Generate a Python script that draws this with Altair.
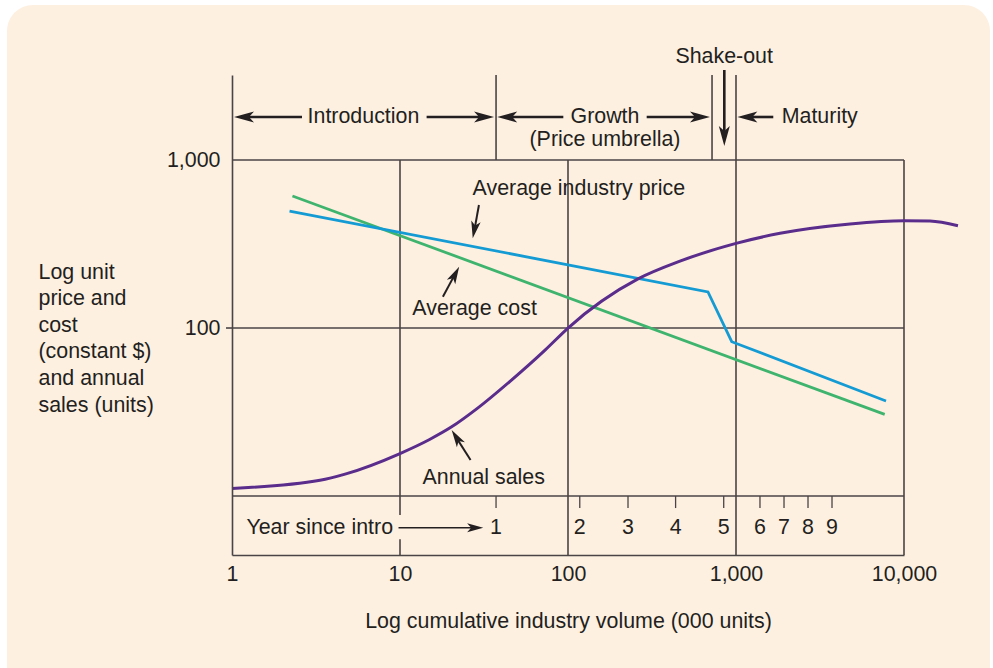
import altair as alt
import pandas as pd

# ---- axes / scale extents (log units) ----
X_MIN, X_MAX = 1, 10000
Y_MIN, Y_MAX = 4.4557, 3206.0

x_ticks = [1, 10, 100, 1000, 10000]
y_ticks = [100, 1000]
y_title = ["Log unit", "price and", "cost", "(constant $)", "and annual", "sales (units)"]

# ---- curves: cumulative volume (000 units) vs value ----
price_x = [2.2, 681, 943, 7815]
price_y = [497, 164, 82.9, 36.8]

cost_x = [2.29, 7677]
cost_y = [611, 30.6]

sales_x = [1, 3.34, 4.71, 10, 15.0, 20.3, 28.6, 45.0, 73.0, 100, 261, 464, 1000, 1828, 4770, 10000, 14280, 20950]
sales_y = [11.1, 12.4, 13.5, 17.9, 21.7, 25.8, 33.0, 48.0, 73.9, 100, 196, 250, 319, 366, 416, 435, 433, 406]

# ---- frame lines ----
h_lines = [1000, 100, 10]
v_lines_x = [10, 10, 100, 1000, 10000, 37.3, 720]
v_lines_y = [1000, 5.52, 1000, Y_MAX, 1000, Y_MAX, Y_MAX]
v_lines_y2 = [7.71, Y_MIN, Y_MIN, Y_MIN, Y_MIN, 1000, 1000]

# ---- year-since-introduction scale ----
year_labels = ["1", "2", "3", "4", "5", "6", "7", "8", "9"]
year_x = [37.3, 117.5, 227.6, 437, 845, 1389, 1931, 2683, 3728]
year_tick_top, year_tick_bottom, year_label_y = 10, 8.48, 6.47

# ---- stage labels and annotations ----
center_text = ["Introduction", "Growth", "(Price umbrella)", "Shake-out",
               "Average industry price", "Average cost", "Annual sales"]
center_x = [6.06, 166, 166, 850, 116, 27.8, 31.5]
center_y = [1803, 1803, 1315, 4102, 670, 129.7, 12.85]

# ---- arrows: shaft (tail -> end) and head (tip, direction) ----
shaft_x = [2.61, 14.4, 93.8, 294, 1667, 852, 29.5, 18.0, 26.3]
shaft_y = [1803, 1803, 1803, 1803, 1803, 3433, 540, 153.5, 16.4]
shaft_x2 = [1.178, 31.6, 43.5, 611, 1167, 852, 27.7, 21.3, 21.5]
shaft_y2 = [1803, 1803, 1803, 1803, 1803, 1389, 381, 210, 22.5]
shaft_w = [2.6, 2.6, 2.6, 2.6, 2.6, 2.6, 2, 2, 2]

head_x = [1.028, 36.3, 37.9, 700, 1019, 852, 27.1, 22.5, 20.3]
head_y = [1803, 1803, 1803, 1803, 1803, 1212, 342, 231.7, 24.7]
head_angle = [180, 0, 180, 0, 180, 90, 100.7, 298, 237.7]
head_size = [400, 400, 400, 400, 400, 400, 300, 300, 300]

year_arrow = dict(x=9.8, x2=27.9, tip=31.3, y=6.47)

INK = "#231f20"
LINE = "#4a4446"
FONT = "Liberation Sans"
FS = 21.4
ARROW_PATH = "M0,0 L-2,-0.55 L-1.5,0 L-2,0.55 Z"

xs = alt.Scale(type="log", domain=[X_MIN, X_MAX], nice=False)
ys = alt.Scale(type="log", domain=[Y_MIN, Y_MAX], nice=False)

x_axis = alt.Axis(values=x_ticks, format=",", title="Log cumulative industry volume (000 units)",
                  ticks=False, grid=False, domainColor=LINE, domainWidth=1.6,
                  labelFont=FONT, labelFontSize=FS, labelColor=INK, labelPadding=8,
                  labelFlush=False, titleFont=FONT, titleFontSize=FS, titleColor=INK,
                  titleFontWeight="normal", titlePadding=26, zindex=2)
y_axis = alt.Axis(values=y_ticks, format=",", title=y_title, ticks=False, grid=False,
                  domainColor=LINE, domainWidth=1.6, labelFont=FONT, labelFontSize=FS,
                  labelColor=INK, labelPadding=12, titleFont=FONT, titleFontSize=FS,
                  titleColor=INK, titleFontWeight="normal", titleAngle=0,
                  titleAlign="left", titleBaseline="top", titleX=-194, titleY=186,
                  titleLineHeight=26.6, zindex=2)


def X(field="x"):
    return alt.X(f"{field}:Q", scale=xs, axis=x_axis)


def Y(field="y"):
    return alt.Y(f"{field}:Q", scale=ys, axis=y_axis)


# rounded panel behind everything
panel = alt.Chart(alt.Data(values=[{"p": 1}])).mark_rect(
    fill="#fdf0e1", cornerRadius=26
).encode(
    x=alt.value(-225), x2=alt.value(758), y=alt.value(-70), y2=alt.value(640)
)

hl = pd.DataFrame({"y": h_lines, "x": X_MIN, "x2": X_MAX})
hrules = alt.Chart(hl).mark_rule(color=LINE, strokeWidth=1.6).encode(
    y=Y("y"), x=X("x"), x2="x2")

vl = pd.DataFrame({"x": v_lines_x, "y": v_lines_y, "y2": v_lines_y2})
vrules = alt.Chart(vl).mark_rule(color=LINE, strokeWidth=1.6).encode(
    x=X(), y=Y(), y2="y2")

tick100 = alt.Chart(alt.Data(values=[{"y": 100}])).mark_rule(color=LINE, strokeWidth=1.6).encode(
    y=Y(), x=alt.value(-6), x2=alt.value(0))

yt = pd.DataFrame({"x": year_x, "y": year_tick_top, "y2": year_tick_bottom, "label": year_labels,
                   "ly": year_label_y})
year_ticks = alt.Chart(yt).mark_rule(color=LINE, strokeWidth=1.3).encode(x=X(), y=Y(), y2="y2")
year_text = alt.Chart(yt).mark_text(font=FONT, fontSize=FS, color=INK, baseline="middle").encode(
    x=X(), y=Y("ly"), text="label:N")

year_caption = alt.Chart(alt.Data(values=[{"x": 9.09, "y": year_label_y, "t": "Year since intro"}])
                         ).mark_text(font=FONT, fontSize=FS, color=INK, align="right",
                                     baseline="middle").encode(x=X(), y=Y(), text="t:N")
year_shaft = alt.Chart(alt.Data(values=[year_arrow])).mark_rule(color=INK, strokeWidth=1.4).encode(
    x=X(), x2="x2", y=Y())
year_head = alt.Chart(alt.Data(values=[year_arrow])).mark_point(
    shape=ARROW_PATH, filled=True, opacity=1, color=INK, size=260, strokeWidth=0).encode(
    x=X("tip"), y=Y())

price_df = pd.DataFrame({"x": price_x, "y": price_y})
cost_df = pd.DataFrame({"x": cost_x, "y": cost_y})
sales_df = pd.DataFrame({"x": sales_x, "y": sales_y, "o": range(len(sales_x))})

price_line = alt.Chart(price_df).mark_line(color="#149bd4", strokeWidth=2.8).encode(x=X(), y=Y())
cost_line = alt.Chart(cost_df).mark_line(color="#3fb46e", strokeWidth=2.8).encode(x=X(), y=Y())
sales_line = alt.Chart(sales_df).mark_line(color="#5a2c8c", strokeWidth=3,
                                           interpolate="monotone").encode(
    x=X(), y=Y(), order="o:Q")

ct = pd.DataFrame({"x": center_x, "y": center_y, "t": center_text})
center_labels = alt.Chart(ct).mark_text(font=FONT, fontSize=FS, color=INK, baseline="middle").encode(
    x=X(), y=Y(), text="t:N")

maturity = alt.Chart(alt.Data(values=[{"x": 1871, "y": 1803, "t": "Maturity"}])).mark_text(
    font=FONT, fontSize=FS, color=INK, align="left", baseline="middle").encode(
    x=X(), y=Y(), text="t:N")

sh = pd.DataFrame({"x": shaft_x, "y": shaft_y, "x2": shaft_x2, "y2": shaft_y2, "w": shaft_w})
shafts = alt.Chart(sh).mark_rule(color=INK).encode(
    x=X(), y=Y(), x2="x2", y2="y2", strokeWidth=alt.StrokeWidth("w:Q", scale=None))

hd = pd.DataFrame({"x": head_x, "y": head_y, "a": head_angle, "s": head_size})
heads = alt.Chart(hd).mark_point(shape=ARROW_PATH, filled=True, opacity=1, color=INK,
                                 strokeWidth=0).encode(
    x=X(), y=Y(), angle=alt.Angle("a:Q", scale=None), size=alt.Size("s:Q", scale=None))

chart = alt.layer(
    panel, hrules, vrules, tick100, year_ticks, year_text, year_caption, year_shaft, year_head,
    cost_line, price_line, sales_line, center_labels, maturity, shafts, heads
).properties(
    width=672, height=480,
    autosize=alt.AutoSizeParams(type="none"),
    padding={"left": 232, "top": 75, "right": 89, "bottom": 113},
    background="white",
).configure_view(stroke=None)

chart.save("out.html", embed_options={"renderer": "svg", "actions": False})
